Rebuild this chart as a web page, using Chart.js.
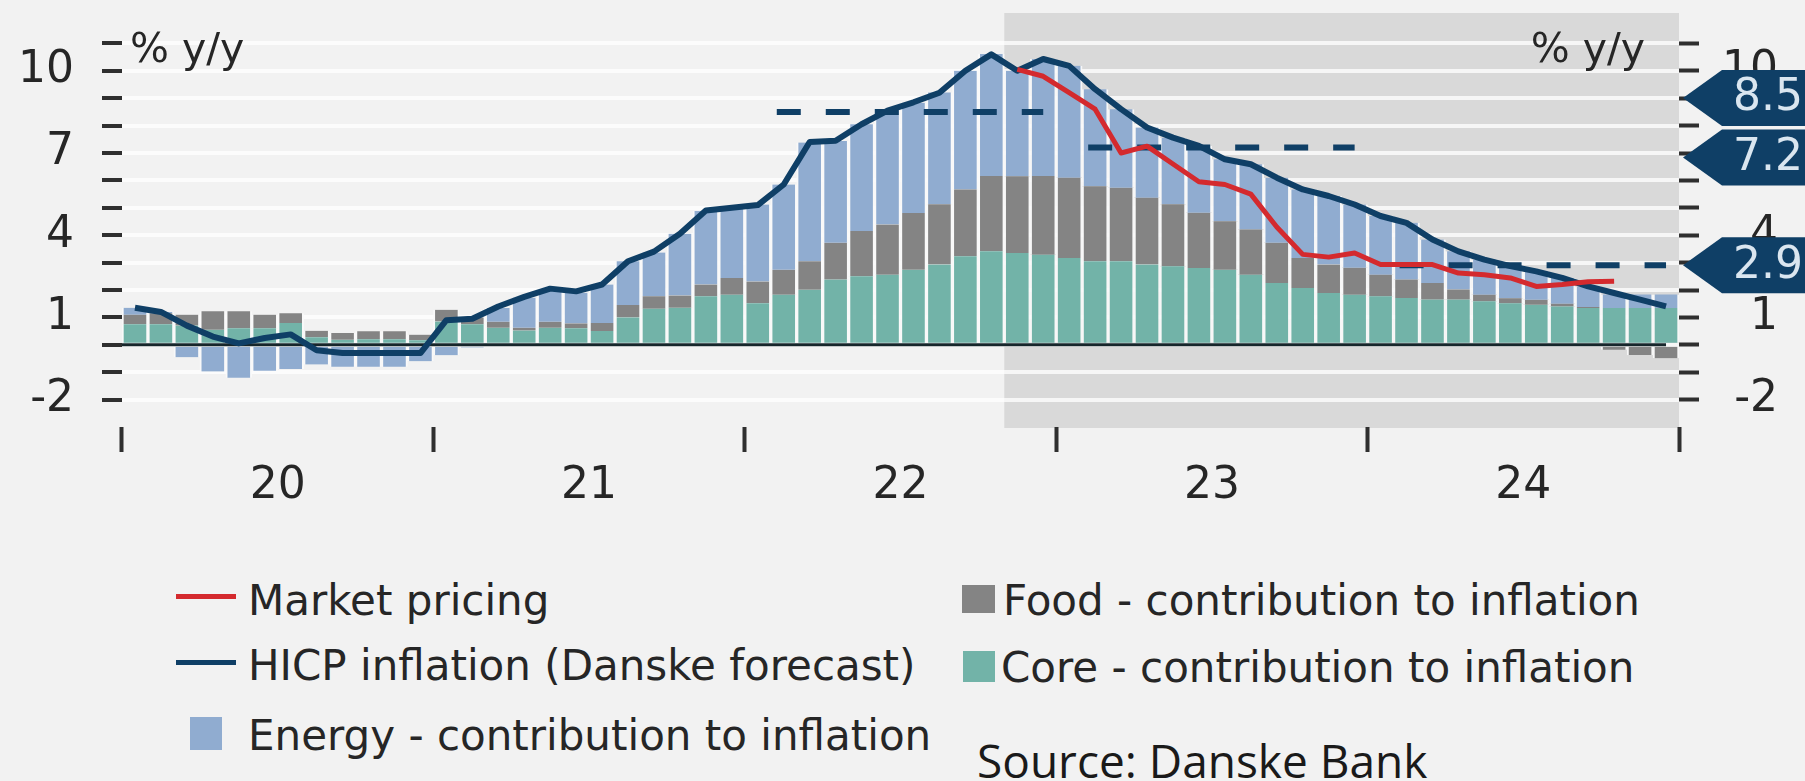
<!DOCTYPE html>
<html>
<head>
<meta charset="utf-8">
<script src="https://cdn.jsdelivr.net/npm/chart.js@4.4.0/dist/chart.umd.min.js"></script>
<style>
body { margin: 0; background: #f2f2f2; }
#page { position: relative; width: 1805px; height: 781px; overflow: hidden; font-family: "DejaVu Sans"; color: #262626; }
#chart { position: absolute; left: 0; top: 0; }
.txt { position: absolute; white-space: nowrap; line-height: 1; }
.unit { font-size: 41px; top: 28px; }
.leg { font-size: 42px; }
.sw { position: absolute; }
.source { font-family: "Open Sans"; font-size: 46px; color: #1a1a1a; }
</style>
</head>
<body>
<div id="page">
  <canvas id="chart" width="1805" height="540"></canvas>

  <div class="txt unit" style="left:130px">% y/y</div>
  <div class="txt unit" style="right:160px">% y/y</div>

  <!-- legenda -->
  <div class="sw" style="left:176px;top:594px;width:60px;height:5px;background:#d42a2e"></div>
  <div class="txt leg" style="left:248px;top:580px">Market pricing</div>
  <div class="sw" style="left:176px;top:660px;width:60px;height:5px;background:#0f3f66"></div>
  <div class="txt leg" style="left:248px;top:645px">HICP inflation (Danske forecast)</div>
  <div class="sw" style="left:190px;top:717px;width:32px;height:33px;background:#90acd0"></div>
  <div class="txt leg" style="left:248px;top:715px">Energy - contribution to inflation</div>
  <div class="sw" style="left:962px;top:585px;width:33px;height:28px;background:#848484"></div>
  <div class="txt leg" style="left:1003px;top:580px">Food - contribution to inflation</div>
  <div class="sw" style="left:963px;top:651px;width:32px;height:31px;background:#72b3a8"></div>
  <div class="txt leg" style="left:1001px;top:647px">Core - contribution to inflation</div>
  <div class="txt source" style="left:977px;top:737px">Source: Danske Bank</div>
</div>

<script>
// datos
const years = ['20', '21', '22', '23', '24'];
const monthNames = ['Jan', 'Feb', 'Mar', 'Apr', 'May', 'Jun', 'Jul', 'Aug', 'Sep', 'Oct', 'Nov', 'Dec'];
const months = [];
years.forEach(y => monthNames.forEach(m => months.push(m + ' ' + y)));

const core = [
    0.75, 0.75, 0.70, 0.55, 0.60, 0.60, 0.80, 0.28, 0.18, 0.20, 0.20, 0.17,
    0.85, 0.75, 0.62, 0.52, 0.62, 0.60, 0.50, 1.00, 1.32, 1.35, 1.77, 1.83,
    1.52, 1.83, 2.01, 2.38, 2.50, 2.56, 2.74, 2.93, 3.23, 3.41, 3.35, 3.29,
    3.17, 3.05, 3.05, 2.93, 2.87, 2.80, 2.74, 2.56, 2.26, 2.07, 1.89, 1.83,
    1.77, 1.71, 1.65, 1.65, 1.59, 1.52, 1.46, 1.40, 1.34, 1.34, 1.34, 1.34
];
const food = [
    0.35, 0.40, 0.40, 0.67, 0.62, 0.50, 0.35, 0.23, 0.25, 0.29, 0.29, 0.20,
    0.43, 0.25, 0.22, 0.10, 0.22, 0.18, 0.30, 0.45, 0.45, 0.45, 0.43, 0.61,
    0.79, 0.91, 1.04, 1.34, 1.65, 1.83, 2.07, 2.20, 2.44, 2.75, 2.80, 2.87,
    2.93, 2.74, 2.68, 2.44, 2.26, 2.02, 1.77, 1.65, 1.46, 1.10, 1.04, 0.98,
    0.79, 0.67, 0.61, 0.37, 0.24, 0.18, 0.18, 0.10, 0.04, -0.18, -0.37, -0.49
];
const energy = [
    0.25, 0.05, -0.45, -0.97, -1.20, -0.95, -0.88, -0.72, -0.80, -0.80, -0.80, -0.60,
    -0.38, -0.10, 0.50, 1.10, 1.20, 1.12, 1.40, 1.60, 1.60, 2.25, 2.68, 2.56,
    2.81, 3.11, 4.33, 3.72, 3.90, 4.15, 4.02, 4.08, 4.33, 4.45, 3.85, 4.27,
    4.08, 3.54, 2.87, 2.56, 2.43, 2.44, 2.26, 2.38, 2.38, 2.50, 2.50, 2.31,
    2.14, 2.07, 1.58, 1.39, 1.28, 1.17, 1.04, 0.94, 0.75, 0.50, 0.50, 0.50
];
const hicp = [
    1.35, 1.20, 0.70, 0.30, 0.05, 0.25, 0.38, -0.20, -0.30, -0.30, -0.30, -0.30,
    0.90, 0.95, 1.40, 1.75, 2.05, 1.95, 2.20, 3.05, 3.40, 4.05, 4.90, 5.00,
    5.10, 5.85, 7.40, 7.45, 8.05, 8.55, 8.85, 9.20, 10.00, 10.60, 10.00, 10.43,
    10.18, 9.33, 8.60, 7.93, 7.56, 7.26, 6.77, 6.59, 6.10, 5.67, 5.43, 5.12,
    4.70, 4.45, 3.84, 3.41, 3.11, 2.87, 2.68, 2.44, 2.13, 1.89, 1.65, 1.40
];
const market = [
    null, null, null, null, null, null, null, null, null, null, null, null,
    null, null, null, null, null, null, null, null, null, null, null, null,
    null, null, null, null, null, null, null, null, null, null, 10.05, 9.80,
    9.20, 8.60, 7.00, 7.25, 6.60, 5.95, 5.85, 5.50, 4.30, 3.30, 3.20, 3.35,
    2.93, 2.93, 2.93, 2.62, 2.56, 2.44, 2.13, 2.20, 2.30, 2.32, null, null
];
const yearAvg = [null, null, 8.5, 7.2, 2.9];        // promedio anual (linea punteada)
const calloutNudge = [0, 0, -14, 10, 0];            // separar las etiquetas
const forecastStart = 'Nov 22';
const yLabels = [10, 7, 4, 1, -2];
const yTicks = [-2, -1, 0, 1, 2, 3, 4, 5, 6, 7, 8, 9, 10, 11];

const navy = '#0f3f66';
const FONT = 'DejaVu Sans';
Chart.defaults.font.family = FONT;

// zona gris del pronostico
const forecastShade = {
    id: 'forecastShade',
    beforeDraw(chart) {
        const { ctx, chartArea, scales } = chart;
        const slot = chartArea.width / months.length;
        const start = scales.x.getPixelForValue(months.indexOf(forecastStart)) - slot / 2;
        ctx.save();
        ctx.fillStyle = '#d9d9d9';
        ctx.fillRect(start, chartArea.top - 3, chartArea.right - start, chartArea.height + 4);
        ctx.restore();
    }
};

// linea del cero encima de las barras
const zeroLine = {
    id: 'zeroLine',
    beforeDatasetsDraw(chart) { chart.$zeroDone = false; },
    beforeDatasetDraw(chart, args) {
        if (args.meta.type !== 'line' || chart.$zeroDone) return;
        chart.$zeroDone = true;
        const { ctx, chartArea, scales } = chart;
        const y0 = scales.y.getPixelForValue(0);
        ctx.save();
        ctx.strokeStyle = '#16262b';
        ctx.lineWidth = 3;
        ctx.beginPath();
        ctx.moveTo(chartArea.left, y0);
        ctx.lineTo(scales.x.getPixelForValue(months.length - 1), y0);
        ctx.stroke();
        ctx.restore();
    }
};

// etiquetas con flecha a la derecha
const callouts = {
    id: 'callouts',
    afterDraw(chart) {
        const { ctx, chartArea, scales, width } = chart;
        ctx.save();
        yearAvg.forEach((v, k) => {
            if (v === null) return;
            const yc = scales.y.getPixelForValue(v) + calloutNudge[k];
            const tip = chartArea.right + 4;
            const body = chartArea.right + 43;
            const half = 28;
            ctx.fillStyle = navy;
            ctx.beginPath();
            ctx.moveTo(tip, yc);
            ctx.lineTo(body, yc - half);
            ctx.lineTo(width, yc - half);
            ctx.lineTo(width, yc + half);
            ctx.lineTo(body, yc + half);
            ctx.closePath();
            ctx.fill();
            ctx.fillStyle = '#dae6f0';
            ctx.font = '44px "' + FONT + '"';
            ctx.textAlign = 'left';
            ctx.textBaseline = 'middle';
            ctx.fillText(v.toFixed(1), body + 11, yc + 1);
        });
        ctx.restore();
    }
};

function avgSeries(k) {
    return months.map((m, i) => Math.floor(i / 12) === k ? yearAvg[k] : null);
}

// ejes verticales sin relleno extra arriba/abajo
function fixVertical(width) {
    return s => {
        s.width = width;
        s.paddingTop = 0;
        s.paddingBottom = 0;
    };
}

const barStyle = {
    type: 'bar',
    yAxisID: 'y',
    barPercentage: 1,
    categoryPercentage: 1,
    borderColor: 'rgba(250,250,250,0.9)',
    borderWidth: { left: 2, right: 2, top: 0, bottom: 0 },
    borderSkipped: false,
    order: 3
};
const dashStyle = {
    type: 'line',
    yAxisID: 'y2',
    borderColor: navy,
    borderWidth: 6,
    borderDash: [24, 25],
    borderDashOffset: 30,
    pointRadius: 0,
    order: 2
};

const datasets = [
    { ...barStyle, label: 'Core - contribution to inflation', data: core, backgroundColor: '#72b3a8' },
    { ...barStyle, label: 'Food - contribution to inflation', data: food, backgroundColor: '#848484' },
    { ...barStyle, label: 'Energy - contribution to inflation', data: energy, backgroundColor: '#90acd0' },
    { ...dashStyle, label: 'Average 2022', data: avgSeries(2) },
    { ...dashStyle, label: 'Average 2023', data: avgSeries(3) },
    { ...dashStyle, label: 'Average 2024', data: avgSeries(4) },
    {
        type: 'line', yAxisID: 'y2', label: 'HICP inflation (Danske forecast)', data: hicp,
        borderColor: navy, borderWidth: 6, borderJoinStyle: 'round', pointRadius: 0, order: 1
    },
    {
        type: 'line', yAxisID: 'y2', label: 'Market pricing', data: market,
        borderColor: '#d42a2e', borderWidth: 5, borderJoinStyle: 'round', pointRadius: 0, order: 0
    }
];

const tickFont = { family: FONT, size: 44 };
const yTickCallback = v => yLabels.includes(v) ? v : '';

new Chart(document.getElementById('chart').getContext('2d'), {
    type: 'bar',
    data: { labels: months, datasets: datasets },
    plugins: [forecastShade, zeroLine, callouts],
    options: {
        responsive: false,
        animation: false,
        events: [],
        layout: { padding: { top: 16, right: 27, left: 0, bottom: 0 } },
        plugins: { legend: { display: false }, tooltip: { enabled: false } },
        scales: {
            x: {
                stacked: true,
                afterFit: s => { s.height = 540 - 427; },
                border: { display: false },
                grid: {
                    offset: true,
                    drawOnChartArea: false,
                    tickLength: 25,
                    tickWidth: 4,
                    tickColor: c => (c.index === undefined || c.index % 12 === 0) ? '#2f2f2f' : 'rgba(0,0,0,0)'
                },
                ticks: {
                    autoSkip: false,
                    maxRotation: 0,
                    minRotation: 0,
                    labelOffset: -13,
                    padding: 8,
                    color: '#262626',
                    font: tickFont,
                    callback: (v, i) => i % 12 === 6 ? years[Math.floor(i / 12)] : ''
                }
            },
            y: {
                stacked: true,
                position: 'left',
                min: -3,
                max: 12,
                afterBuildTicks: s => { s.ticks = yTicks.map(v => ({ value: v })); },
                afterFit: fixVertical(122),
                border: { display: false },
                grid: {
                    color: 'rgba(255,255,255,0.75)',
                    lineWidth: 4,
                    tickColor: '#2f2f2f',
                    tickWidth: 4,
                    tickLength: 20
                },
                ticks: { autoSkip: false, padding: 28, color: '#262626', font: tickFont, callback: yTickCallback }
            },
            y2: {
                position: 'right',
                min: -3,
                max: 12,
                afterBuildTicks: s => { s.ticks = yTicks.map(v => ({ value: v })); },
                afterFit: fixVertical(1778 - 1679),
                border: { display: false },
                grid: {
                    drawOnChartArea: false,
                    tickColor: '#2f2f2f',
                    tickWidth: 4,
                    tickLength: 20
                },
                ticks: { autoSkip: false, crossAlign: 'far', color: '#262626', font: tickFont, callback: yTickCallback }
            }
        }
    }
});
</script>
</body>
</html>
